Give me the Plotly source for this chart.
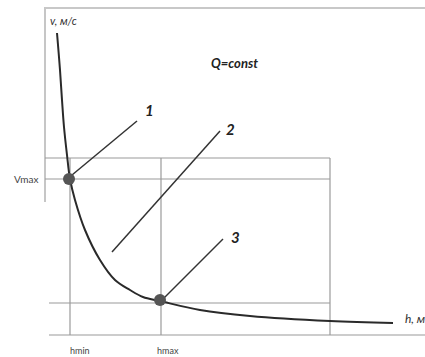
import plotly.graph_objects as go

# Curve v(h) at Q = const
curve_h = [1.2, 1.5, 1.7, 1.9, 2.2, 2.5, 3.0, 4.0, 5.5, 7.0, 8.5, 9.8, 11.5, 15.5, 20.5, 28.5, 34.8]
curve_v = [30.2, 26.5, 23.5, 20.8, 18.0, 15.6, 13.5, 10.5, 7.5, 5.5, 4.5, 3.8, 3.4, 2.5, 1.9, 1.4, 1.2]

# Marked points 1 and 3
point_h = [2.4, 11.5]
point_v = [15.6, 3.5]

# Reference levels
h_min, h_max, h_box = 2.5, 11.6, 28.5
v_top, v_max, v_low, v_base = 17.7, 15.6, 3.2, 0.0

# Leader lines (start h, start v, end h, end v) and labels
leaders = [
    (2.7, 16.0, 9.2, 21.4),
    (6.7, 8.3, 17.5, 20.4),
    (11.9, 3.7, 17.8, 9.6),
]
leader_labels = ["1", "2", "3"]
label_pos = [(10.4, 22.5), (18.5, 20.6), (19.0, 9.8)]

grid = "#9a9a9a"
fig = go.Figure()

def seg(x, y, color=grid, width=1.2):
    fig.add_trace(go.Scatter(x=x, y=y, mode="lines", line=dict(color=color, width=width),
                             hoverinfo="skip", showlegend=False))

# frame
seg([0, 0], [13.3, 32.8], color="#a0a0a0", width=1.2)
seg([0, 38.5], [32.7, 32.7], color="#c8c8c8", width=2)

# grid rectangles
seg([h_min, h_min], [v_base, v_top])
seg([h_max, h_max], [v_base, v_top])
seg([h_box, h_box], [v_base, v_top])
seg([0, h_box], [v_top, v_top])
seg([0, h_box], [v_max, v_max])
seg([0.4, h_box], [v_low, v_low])
seg([0.4, 38.5], [v_base, v_base])

# curve
fig.add_trace(go.Scatter(x=curve_h, y=curve_v, mode="lines", line=dict(color="#2a2a2a", width=2, shape="spline"),
                         hoverinfo="skip", showlegend=False))

# leaders
for (x0, y0, x1, y1) in leaders:
    seg([x0, x1], [y0, y1], color="#333333", width=1.5)

# points
fig.add_trace(go.Scatter(x=point_h, y=point_v, mode="markers",
                         marker=dict(color="#555555", size=12), hoverinfo="skip", showlegend=False))

font = "Lato, 'Open Sans', sans-serif"
for lab, (x, y) in zip(leader_labels, label_pos):
    fig.add_annotation(x=x, y=y, text=f"<b><i>{lab}</i></b>", showarrow=False,
                       font=dict(family=font, size=15, color="#222222"), xanchor="center", yanchor="middle")

fig.add_annotation(x=0.3, y=31.5, text="<i>v, м/с</i>", showarrow=False, xanchor="left", yanchor="middle",
                   font=dict(family=font, size=11, color="#333333"))
fig.add_annotation(x=18.9, y=27.2, text="<b><i>Q=const</i></b>", showarrow=False, xanchor="center", yanchor="middle",
                   font=dict(family=font, size=13, color="#222222"))
fig.add_annotation(x=-0.5, y=v_max, text="Vmax", showarrow=False, xanchor="right", yanchor="middle",
                   font=dict(family=font, size=10, color="#444444"))
fig.add_annotation(x=h_min - 0.2, y=-1.55, text="hmin", showarrow=False, xanchor="left", yanchor="middle",
                   font=dict(family=font, size=9, color="#444444"))
fig.add_annotation(x=h_max - 0.6, y=-1.55, text="hmax", showarrow=False, xanchor="left", yanchor="middle",
                   font=dict(family=font, size=9, color="#444444"))
fig.add_annotation(x=35.8, y=1.7, text="<i>h, м</i>", showarrow=False, xanchor="left", yanchor="middle",
                   font=dict(family=font, size=12, color="#333333"))

fig.update_layout(
    width=425, height=357, margin=dict(l=0, r=0, t=0, b=0),
    paper_bgcolor="white", plot_bgcolor="white",
    xaxis=dict(range=[-4.5, 38.0], visible=False, fixedrange=True),
    yaxis=dict(range=[-2.2, 33.5], visible=False, fixedrange=True),
)
fig.write_html("out.html")
